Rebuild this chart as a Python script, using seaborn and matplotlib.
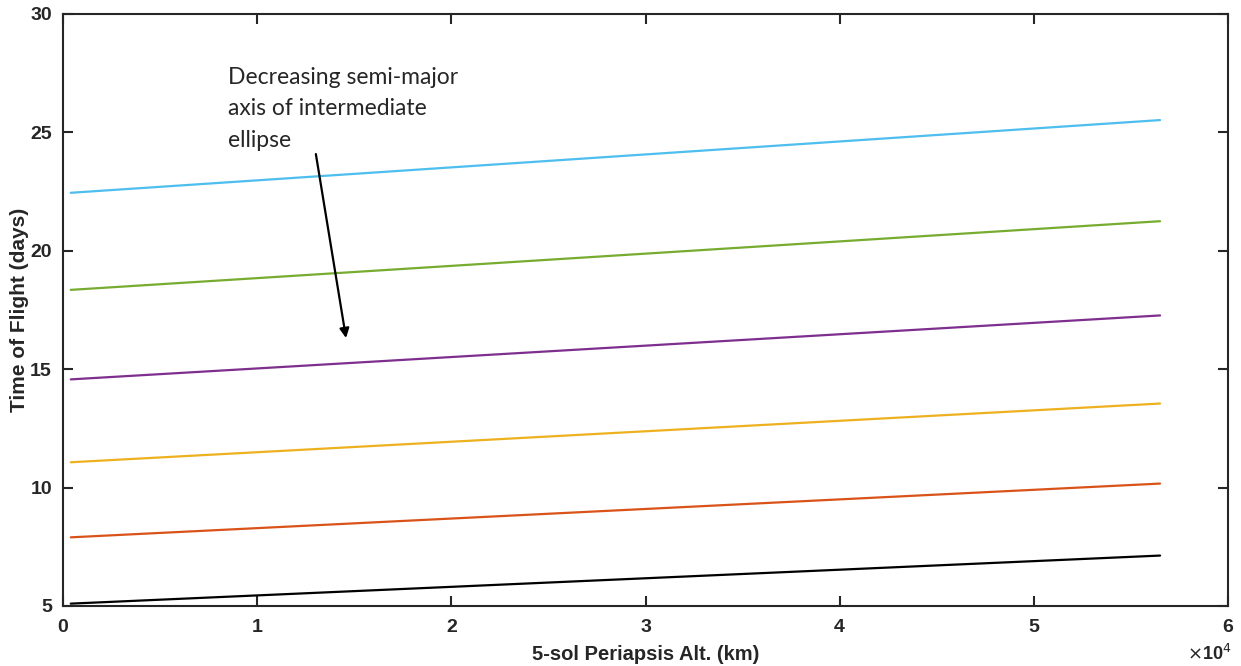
import matplotlib
matplotlib.use("Agg")
import matplotlib.pyplot as plt
import seaborn as sns
import pandas as pd

# Data
periapsis_alt_km = [400, 56500]
tof_blue = [22.45, 25.52]
tof_green = [18.35, 21.25]
tof_purple = [14.57, 17.27]
tof_yellow = [11.07, 13.55]
tof_red = [7.9, 10.17]
tof_black = [5.1, 7.13]
series_names = ["a1", "a2", "a3", "a4", "a5", "a6"]
series_values = [tof_blue, tof_green, tof_purple, tof_yellow, tof_red, tof_black]
series_colors = ["#4DBEEE", "#77AC30", "#7E2F8E", "#EDB120", "#D95319", "#000000"]
x_ticks = [0, 10000, 20000, 30000, 40000, 50000, 60000]
x_ticklabels = ["0", "1", "2", "3", "4", "5", "6"]
y_ticks = [5, 10, 15, 20, 25, 30]

rows = []
for name, vals in zip(series_names, series_values):
    for x, y in zip(periapsis_alt_km, vals):
        rows.append({"alt": x, "tof": y, "series": name})
df = pd.DataFrame(rows)

sns.set_theme(style="white")
plt.rcParams["font.family"] = ["Liberation Sans", "DejaVu Sans"]

fig = plt.figure(figsize=(12.41, 6.66), dpi=100)
ax = fig.add_axes([63/1241, 1-606/666, (1228-63)/1241, (606-14)/666])

sns.lineplot(data=df, x="alt", y="tof", hue="series", hue_order=series_names,
             palette=dict(zip(series_names, series_colors)), linewidth=1.6,
             legend=False, ax=ax)

ax.set_xlim(0, 60000)
ax.set_ylim(5, 30)
ax.set_xticks(x_ticks)
ax.set_xticklabels(x_ticklabels)
ax.set_yticks(y_ticks)
for s in ax.spines.values():
    s.set_color("#262626")
    s.set_linewidth(1.5)
ax.tick_params(which="both", direction="in", length=7, width=1.5, color="#262626",
               labelsize=14, labelcolor="#262626",
               bottom=True, left=True, top=True, right=True)
ax.tick_params(axis="x", pad=9)
ax.tick_params(axis="y", pad=8)
for lab in ax.get_xticklabels() + ax.get_yticklabels():
    lab.set_fontweight("bold")

ax.set_xlabel("5-sol Periapsis Alt. (km)", fontsize=14.5, fontweight="bold", color="#262626", labelpad=7)
ax.set_ylabel("Time of Flight (days)", fontsize=15, fontweight="bold", color="#262626", labelpad=1)

fig.text(1232/1241, 1-664/666, r"$\times$10$^{4}$", ha="right", va="bottom",
         fontsize=13, fontweight="bold", color="#262626")

ax.text(8500, 27.75, "Decreasing semi-major\naxis of intermediate\nellipse", fontsize=16.5,
        family=["Lato", "DejaVu Sans"], color="#262626", va="top", ha="left", linespacing=1.6)
ax.annotate("", xy=(14600, 16.2), xytext=(13000, 24.2),
            arrowprops=dict(arrowstyle="-|>", color="black", lw=1.6, mutation_scale=14))

fig.savefig("out.png", dpi=100)
